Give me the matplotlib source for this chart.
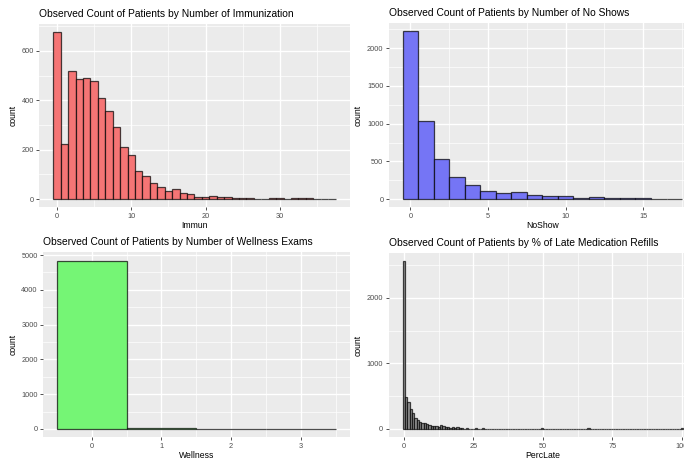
import numpy as np
import matplotlib
matplotlib.use("Agg")
import matplotlib.pyplot as plt

plt.rcParams["font.family"] = ["Liberation Sans", "DejaVu Sans"]

# Data (counts per bin)

immun_counts = [677, 222, 518, 486, 492, 479, 408, 355, 291, 210, 178, 113,
                93, 65, 47, 31, 40, 26, 20, 8, 8, 12, 9, 9, 3, 5, 5, 2, 2,
                5, 3, 0, 3, 3, 3, 0, 0, 1]
immun_width = 1.0

noshow_counts = [2226, 1040, 531, 296, 181, 111, 75, 88, 53, 35, 40, 9, 27,
                 9, 9, 9, 3, 3]
noshow_width = 1.0

wellness_counts = [4836, 22, 2, 2]
wellness_width = 1.0

perclate_counts = [2561, 482, 411, 299, 248, 162, 137, 106, 96, 86, 71, 61,
                   46, 41, 41, 35, 56, 41, 30, 35, 20, 35, 15, 25, 10, 8, 6,
                   8, 5, 6, 5, 8, 4, 3, 8, 6, 2, 2, 3, 6, 6]
perclate_extra = {59: 8, 79: 8, 119: 8}
perclate_nbins = 120
perclate_width = 100 / (perclate_nbins - 1)

titles = [
    "Observed Count of Patients by Number of Immunization",
    "Observed Count of Patients by Number of No Shows",
    "Observed Count of Patients by Number of Wellness Exams",
    "Observed Count of Patients by % of Late Medication Refills",
]
xlabels = ["Immun", "NoShow", "Wellness", "PercLate"]

W, H = 684, 459
fig = plt.figure(figsize=(W / 100, H / 100), dpi=100)


def add_panel(x0, y0, x1, y1):
    # pixel box (top-left origin) -> figure fraction
    return fig.add_axes([x0 / W, 1 - y1 / H, (x1 - x0) / W, (y1 - y0) / H])


def style(ax, xmaj, xmin, ymaj, ymin, title, xlabel):
    ax.set_facecolor("#EBEBEB")
    for s in ax.spines.values():
        s.set_visible(False)
    ax.set_xticks(xmaj)
    ax.set_xticks(xmin, minor=True)
    ax.set_yticks(ymaj)
    ax.set_yticks(ymin, minor=True)
    ax.grid(True, which="major", color="white", linewidth=1.0, zorder=0)
    ax.grid(True, which="minor", color="white", linewidth=0.5, zorder=0)
    ax.set_axisbelow(True)
    ax.tick_params(which="major", length=2.2, width=0.6, color="#333333",
                   labelsize=5.3, labelcolor="#4D4D4D", pad=1.5)
    ax.tick_params(which="minor", length=0)
    ax.set_xlabel(xlabel, fontsize=6.2, labelpad=1)
    ax.set_ylabel("count", fontsize=6.2, labelpad=3)
    ax.set_title(title, fontsize=7.4, loc="left", pad=5)


def hist(ax, counts, width, fill, edge):
    centers = np.arange(len(counts)) * width
    ax.bar(centers, counts, width=width, color=fill, edgecolor=edge,
           linewidth=0.9, zorder=2)


edge = (0, 0, 0, 0.7)

# Immunization
ax1 = add_panel(39.2, 23.6, 349.7, 207.4)
hist(ax1, immun_counts, immun_width, "#F57575", edge)
ax1.set_xlim(-2.4, 39.4)
ax1.set_ylim(-33.9, 711)
style(ax1, [0, 10, 20, 30], [5, 15, 25, 35], [0, 200, 400, 600],
      [100, 300, 500, 700], titles[0], xlabels[0])

# No shows (right side cropped like the reference)
ax2 = add_panel(388.6, 22.9, 696.0, 207.4)
hist(ax2, noshow_counts, noshow_width, "#7575F5", edge)
ax2.set_xlim(-1.4, 18.4)
ax2.set_ylim(-111, 2337)
style(ax2, [0, 5, 10, 15], [2.5, 7.5, 12.5, 17.5],
      [0, 500, 1000, 1500, 2000], [250, 750, 1250, 1750, 2250],
      titles[1], xlabels[1])

# Wellness
ax3 = add_panel(43.0, 252.3, 349.6, 437.4)
hist(ax3, wellness_counts, wellness_width, "#75F575", edge)
ax3.set_xlim(-0.7, 3.7)
ax3.set_ylim(-242, 5078)
style(ax3, [0, 1, 2, 3], [0.5, 1.5, 2.5, 3.5],
      [0, 1000, 2000, 3000, 4000, 5000], [500, 1500, 2500, 3500, 4500],
      titles[2], xlabels[2])

# Percent late refills
perc = np.zeros(perclate_nbins)
perc[:len(perclate_counts)] = perclate_counts
for k, v in perclate_extra.items():
    perc[k] = v
ax4 = add_panel(388.5, 252.5, 697.3, 437.4)
hist(ax4, perc, perclate_width, "#919191", edge)
ax4.set_xlim(-5.46, 105.46)
ax4.set_ylim(-128, 2689)
style(ax4, [0, 25, 50, 75, 100], [12.5, 37.5, 62.5, 87.5],
      [0, 1000, 2000], [500, 1500, 2500], titles[3], xlabels[3])

fig.savefig("out.png", dpi=100)
